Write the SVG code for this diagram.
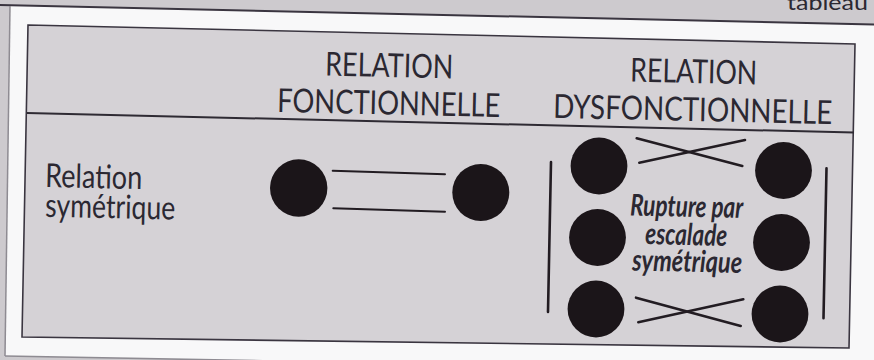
<svg xmlns="http://www.w3.org/2000/svg" width="874" height="360" viewBox="0 0 874 360">
  <style>
    .hdr { font-family: Lato, "Open Sans", "DejaVu Sans", sans-serif; font-size: 33px; fill: #2b2832; text-anchor: middle; }
    .lbl { font-family: Lato, "Open Sans", "DejaVu Sans", sans-serif; font-size: 33px; fill: #2b2832; }
    .note { font-family: Lato, "Open Sans", "DejaVu Sans", sans-serif; font-size: 30px; font-weight: bold; font-style: italic; fill: #2b2832; text-anchor: middle; }
    .dot { fill: #1b1519; }
    .link { stroke: #221c22; stroke-width: 2; stroke-linecap: round; fill: none; }
    .bar { stroke: #221c22; stroke-width: 2.6; stroke-linecap: round; fill: none; }
  </style>

  <!-- scanned page background -->
  <rect x="0" y="0" width="874" height="360" fill="#cdcace"/>
  <text x="787" y="10" font-family="Lato, 'Open Sans', sans-serif" font-size="22" fill="#2b2832" textLength="81" lengthAdjust="spacingAndGlyphs">tableau</text>
  <polygon points="10,5.2 874,24.5 874,372 5,356" fill="#f8f8f9"/>
  <line x1="0" y1="5" x2="874" y2="24.5" stroke="#3a3540" stroke-width="2"/>
  <line x1="10" y1="6" x2="5" y2="356" stroke="#8e8b92" stroke-width="1.5"/>
  <line x1="5" y1="356" x2="874" y2="372" stroke="#8e8b92" stroke-width="1.5"/>

  <!-- table box -->
  <g id="table">
    <polygon points="28,25 855,44 849,348 22,337" fill="#d5d2d6" stroke="#3a3540" stroke-width="1.6"/>
    <line x1="27" y1="113" x2="854" y2="132.5" stroke="#2e2a33" stroke-width="2"/>
  </g>

  <g id="header-fonctionnelle">
    <text class="hdr" x="389" y="77" transform="rotate(1.3 389 77)" textLength="128" lengthAdjust="spacingAndGlyphs">RELATION</text>
    <text class="hdr" x="388.5" y="114.5" transform="rotate(1.3 388.5 114.5)" textLength="223" lengthAdjust="spacingAndGlyphs">FONCTIONNELLE</text>
  </g>
  <g id="header-dysfonctionnelle">
    <text class="hdr" x="693.5" y="83" transform="rotate(1.3 693.5 83)" textLength="127" lengthAdjust="spacingAndGlyphs">RELATION</text>
    <text class="hdr" x="692.5" y="121" transform="rotate(1.3 692.5 121)" textLength="279" lengthAdjust="spacingAndGlyphs">DYSFONCTIONNELLE</text>
  </g>
  <g id="row-label">
    <text class="lbl" x="45" y="187" transform="rotate(1.3 45 187)" textLength="97" lengthAdjust="spacingAndGlyphs">Relation</text>
    <text class="lbl" x="45" y="216.7" transform="rotate(1.3 45 216.7)" textLength="130" lengthAdjust="spacingAndGlyphs">symétrique</text>
  </g>

  <!-- functional relation nodes -->
  <g id="f-left"><circle class="dot" cx="298.7" cy="188" r="28.7"/></g>
  <g id="f-right"><circle class="dot" cx="480.8" cy="192.5" r="28.5"/></g>

  <!-- dysfunctional relation nodes -->
  <g id="d-left-top"><circle class="dot" cx="599" cy="166" r="28.4"/></g>
  <g id="d-left-mid"><circle class="dot" cx="597.5" cy="237.5" r="28.4"/></g>
  <g id="d-left-bot"><circle class="dot" cx="596" cy="309" r="28.4"/></g>
  <g id="d-right-top"><circle class="dot" cx="783.5" cy="170.5" r="28.4"/></g>
  <g id="d-right-mid"><circle class="dot" cx="781.5" cy="242.5" r="28.4"/></g>
  <g id="d-right-bot"><circle class="dot" cx="780" cy="314" r="28.4"/></g>

  <g id="rupture-label">
    <text class="note" x="686.5" y="216.7" transform="rotate(1.3 686.5 216.7)" textLength="113" lengthAdjust="spacingAndGlyphs">Rupture par</text>
    <text class="note" x="686" y="245" transform="rotate(1.3 686 245)" textLength="82" lengthAdjust="spacingAndGlyphs">escalade</text>
    <text class="note" x="687" y="271.7" transform="rotate(1.3 687 271.7)" textLength="110" lengthAdjust="spacingAndGlyphs">symétrique</text>
  </g>

  <!-- connectors -->
  <g id="connectors">
    <line class="link" x1="332.7" y1="170.7" x2="445" y2="174.3"/>
    <line class="link" x1="333.3" y1="208.3" x2="445" y2="211.7"/>
    <line class="bar" x1="636.7" y1="138.3" x2="742.3" y2="166"/>
    <line class="bar" x1="639.3" y1="162.7" x2="745" y2="140"/>
    <line class="bar" x1="636" y1="297.7" x2="740.7" y2="326"/>
    <line class="bar" x1="638.3" y1="322.3" x2="743.3" y2="299.3"/>
    <line class="bar" x1="551" y1="162" x2="548" y2="312"/>
    <line class="bar" x1="826.5" y1="168.3" x2="823.5" y2="318.3"/>
  </g>
</svg>
